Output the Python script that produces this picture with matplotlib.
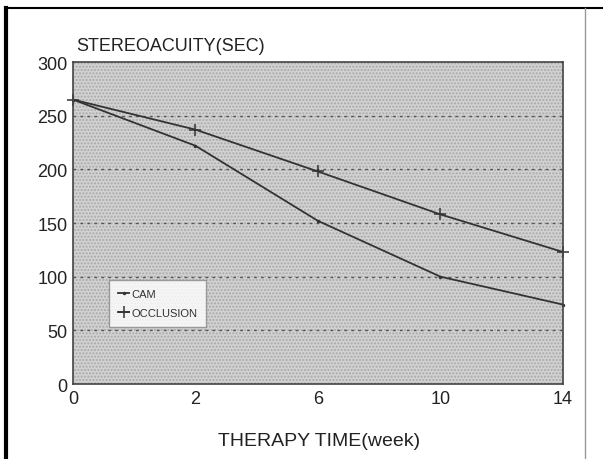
import matplotlib.pyplot as plt
from matplotlib.patches import Rectangle
from matplotlib.lines import Line2D

plt.rcParams['font.family'] = ['Liberation Sans', 'DejaVu Sans']
plt.rcParams['hatch.linewidth'] = 1.0

weeks = ['0', '2', '6', '10', '14']
cam = [265, 222, 152, 100, 74]
occlusion = [265, 237, 198, 158, 123]
yticks = [0, 50, 100, 150, 200, 250, 300]

fig = plt.figure(figsize=(6.08, 4.6), dpi=100)
ax = fig.add_axes([0.120, 0.163, 0.806, 0.700])
ax.set_facecolor('#d2d2d2')
# stipple pattern of the printed chart
ax.add_patch(Rectangle((0, 0), 1, 1, transform=ax.transAxes, facecolor='none',
                       hatch='.....', edgecolor='#a8a8a8', lw=0, zorder=0))

x = list(range(len(weeks)))
ax.plot(x, cam, color='#333333', lw=1.3, marker='.', ms=3, clip_on=False, label='CAM')
ax.plot(x, occlusion, color='#333333', lw=1.3, marker='+', ms=9, mew=1.1,
        clip_on=False, label='OCCLUSION')

ax.set_xlim(0, 3.985)
ax.set_ylim(0, 300)
ax.set_xticks(x)
ax.set_xticklabels(weeks, fontsize=13, color='#222222')
ax.set_yticks(yticks)
ax.set_yticklabels([str(v) for v in yticks], fontsize=13, color='#222222')
ax.tick_params(length=0, pad=4)
for v in yticks[1:-1]:
    ax.axhline(v, color='#555555', lw=1, ls=(0, (2, 3)), zorder=1)
for s in ax.spines.values():
    s.set_color('#444444')
    s.set_linewidth(1.2)

leg = ax.legend(loc='lower left', bbox_to_anchor=(0.063, 0.16), fontsize=8,
                frameon=True, fancybox=False, handlelength=1.0, handletextpad=0.2,
                borderpad=0.8, labelspacing=0.8, edgecolor='#888888')
leg.get_frame().set_facecolor('white')
for t in leg.get_texts():
    t.set_color('#333333')

fig.text(0.125, 0.89, 'STEREOACUITY(SEC)', fontsize=13, color='#222222')
fig.text(0.525, 0.03, 'THERAPY TIME(week)', fontsize=14, color='#222222', ha='center')

# frame of the scan
fig.add_artist(Line2D([0.010, 0.010], [0, 0.98], transform=fig.transFigure,
                      color='black', lw=3))
fig.add_artist(Line2D([0.010, 0.99], [0.98, 0.98], transform=fig.transFigure,
                      color='black', lw=1.5))
fig.add_artist(Line2D([0.962, 0.962], [0, 0.98], transform=fig.transFigure,
                      color='#999999', lw=1))

fig.savefig('out.png', dpi=100)
